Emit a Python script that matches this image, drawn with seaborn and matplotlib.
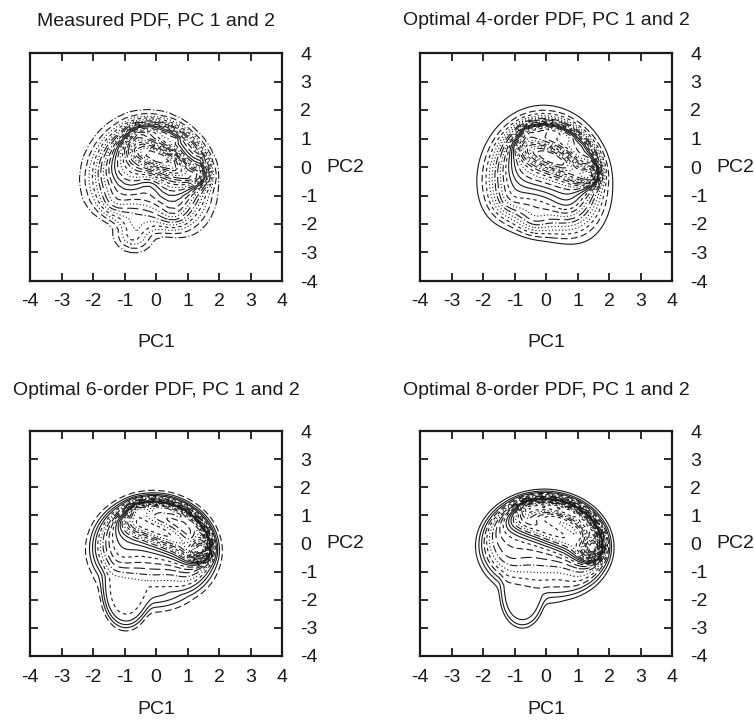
import numpy as np
import matplotlib
matplotlib.use("Agg")
import matplotlib.pyplot as plt
import seaborn as sns

sns.set_theme(style="white")
plt.rcParams['font.family'] = ['Liberation Sans', 'DejaVu Sans']

# ---------------- data ----------------
titles = ["Measured PDF, PC 1 and 2", "Optimal 4-order PDF, PC 1 and 2",
          "Optimal 6-order PDF, PC 1 and 2", "Optimal 8-order PDF, PC 1 and 2"]
tick_vals = [-4, -3, -2, -1, 0, 1, 2, 3, 4]
keys = ["meas", "o4", "o6", "o8"]

# high-density ridge along the upper-right edge
ridge_x = [-0.6, -0.1, 0.4, 0.85, 1.25, 1.5, 1.6, 1.55]
ridge_y = [1.35, 1.42, 1.37, 1.17, 0.85, 0.45, 0.05, -0.3]
# banana-shaped plateau (crescent enclosed by the solid contours)
band_x = [-0.85, -0.4, 0.1, 0.6, 1.1, 1.4]
band_y = [0.9, 0.65, 0.4, 0.15, -0.2, -0.35]

ridge_w = {"meas": 0.40, "o4": 0.40, "o6": 0.40, "o8": 0.40}
band_w = {"meas": 0.13, "o4": 0.15, "o6": 0.15, "o8": 0.14}

# linear trend: [value at origin, slope in PC2, slope in PC1, floor]
trend = {"meas": [0.375, 0.15, 0.04, 0.0],
         "o4":   [0.40, 0.143, 0.04, 0.0],
         "o6":   [0.40, 0.143, 0.04, 0.17],
         "o8":   [0.40, 0.143, 0.04, 0.135]}

# support windows (centre x, centre y, radius x, radius y)
win_main = {"meas": [-0.3, -1.0, 1.75, 2.2],
            "o4":   [-0.1, -1.0, 1.72, 2.33],
            "o6":   [-0.11, -0.39, 1.88, 1.89],
            "o8":   [-0.07, -0.21, 1.99, 1.88]}
win_lobe = {"meas": None,
            "o4":   None,
            "o6":   [-0.95, -1.75, 0.75, 1.25],
            "o8":   [-0.75, -1.8, 0.7, 1.18]}
win_power = {"meas": 4, "o4": 4, "o6": 6, "o8": 8}

# small bumps (x, y, weight, width)
bump_x = {"meas": [-0.75, -1.4, 0.6, 1.5, 0.55, -0.2],
          "o4": [-1.3, -0.4, 0.7],
          "o6": [-1.2, 0.5],
          "o8": [-1.2, 0.5]}
bump_y = {"meas": [-2.45, -1.3, -1.7, 0.35, 1.0, -0.6],
          "o4": [-1.2, -1.9, -1.4],
          "o6": [-0.5, -1.2],
          "o8": [-0.6, -1.2]}
bump_w = {"meas": [0.12, 0.05, 0.05, 0.3, 0.12, -0.05],
          "o4": [0.05, 0.05, 0.03],
          "o6": [0.04, -0.03],
          "o8": [0.04, -0.03]}
bump_s = {"meas": [0.4, 0.35, 0.35, 0.12, 0.1, 0.3],
          "o4": [0.4, 0.35, 0.4],
          "o6": [0.4, 0.4],
          "o8": [0.4, 0.4]}

# line style of each contour level, lowest level first
style_codes = {
    "meas": "cdohocloddssdohcdlohdcod",
    "o4":   "sdhooclodhsssdohdcohdocd",
    "o6":   "dssshocldhsssdohdcohdocd",
    "o8":   "sssdhocldhsssdohdcohdocd",
}
style_map = {'s': '-', 'd': (0, (6, 3)), 'h': (0, (3, 3)), 'o': (0, (1, 2)),
             'c': (0, (7, 2, 1, 2)), 'l': (0, (10, 4))}


def gauss(X, Y, xs, ys, ws, ss):
    Z = np.zeros_like(X)
    for x0, y0, w, s in zip(xs, ys, ws, ss):
        Z += w * np.exp(-((X - x0) ** 2 + (Y - y0) ** 2) / (2 * s ** 2))
    return Z


def window(X, Y, p, power):
    cx, cy, rx, ry = p
    rho2 = ((X - cx) / rx) ** 2 + ((Y - cy) / ry) ** 2
    return np.exp(-rho2 ** (power / 2))


def density(key, step):
    g = np.arange(-4, 4 + step / 2, step)
    X, Y = np.meshgrid(g, g)
    pw = win_power[key]
    Wn = window(X, Y, win_main[key], pw)
    if win_lobe[key] is not None:
        W2 = window(X, Y, win_lobe[key], pw)
        Wn = 1 - (1 - Wn) * (1 - W2)
    a0, ay, ax_, floor = trend[key]
    V = np.clip(a0 + ay * Y + ax_ * X, floor, None)
    n, m = len(ridge_x), len(band_x)
    V = V + gauss(X, Y, ridge_x, ridge_y, [ridge_w[key]] * n, [0.22] * n)
    V = V + gauss(X, Y, band_x, band_y, [band_w[key]] * m, [0.3] * m)
    V = V + gauss(X, Y, bump_x[key], bump_y[key], bump_w[key], bump_s[key])
    return X, Y, Wn * np.clip(V, 0, None)


fig = plt.figure(figsize=(7.54, 7.23), dpi=100)
W, H = 754, 723
boxes = [(30, 53, 228), (420, 53, 228), (30, 431, 225), (420, 431, 225)]
steps = [0.2, 0.04, 0.04, 0.04]

for i, key in enumerate(keys):
    l, t, hh = boxes[i]
    X, Y, Z = density(key, steps[i])
    ax = fig.add_axes([l / W, 1 - (t + hh) / H, 252 / W, hh / H])
    zmax = Z.max()
    codes = style_codes[key]
    levels = np.linspace(0.04 * zmax, 0.95 * zmax, len(codes))
    ax.contour(X, Y, Z, levels=levels, colors='k', linewidths=0.8,
               linestyles=[style_map[c] for c in codes])
    ax.set_xlim(-4, 4)
    ax.set_ylim(-4, 4)
    ax.set_xticks(tick_vals)
    ax.set_yticks(tick_vals)
    ax.set_xticklabels([str(v) for v in tick_vals])
    ax.set_yticklabels([str(v) for v in tick_vals])
    ax.yaxis.tick_right()
    ax.yaxis.set_label_position('right')
    ax.tick_params(axis='both', direction='in', length=6, width=1.3,
                   top=True, bottom=True, left=True, right=True,
                   labelsize=14, colors='k')
    ax.tick_params(axis='x', pad=9)
    ax.tick_params(axis='y', labelleft=False, labelright=True, pad=13)
    for s in ax.spines.values():
        s.set_visible(True)
        s.set_color('k')
        s.set_linewidth(1.6)
    ax.set_xlabel('PC1', fontsize=14, labelpad=17 if i < 2 else 11, color='k')
    ax.set_ylabel('PC2', fontsize=14, rotation=0, labelpad=6, va='center',
                  ha='left', color='k')
    ax.set_title(titles[i], fontsize=14, pad=20 if i < 2 else 26, color='k')
    ax.grid(False)

fig.savefig('out.png', dpi=100)
